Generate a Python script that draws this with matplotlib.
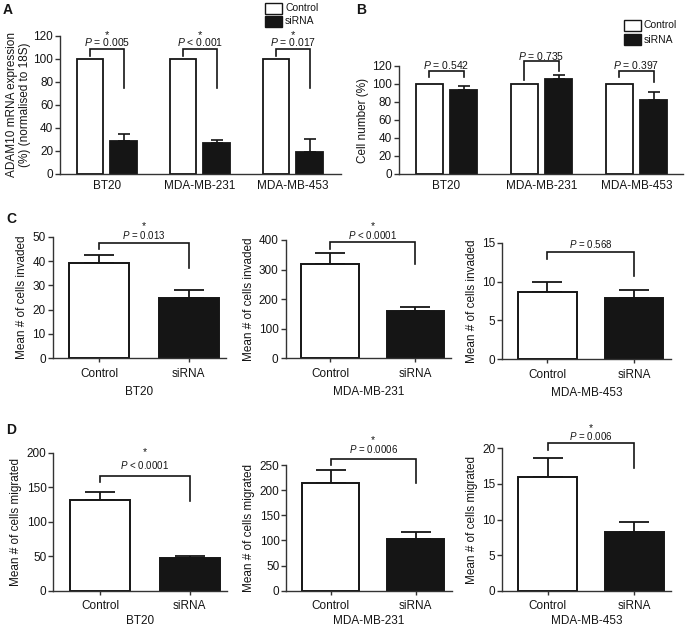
import matplotlib
matplotlib.use("Agg")
import matplotlib.pyplot as plt
from matplotlib.patches import Rectangle
import numpy as np

plt.rcParams['font.family'] = ['Liberation Sans', 'DejaVu Sans']
plt.rcParams['mathtext.fontset'] = 'custom'
plt.rcParams['mathtext.it'] = 'Liberation Sans:italic'
plt.rcParams['mathtext.rm'] = 'Liberation Sans'

W, H = 685, 627
INK = '#151515'
AX = '#333333'

# ---------------- data ----------------
cell_lines = ['BT20', 'MDA-MB-231', 'MDA-MB-453']
treatments = ['Control', 'siRNA']

# Panel A: ADAM10 mRNA expression (% normalised to 18S)
a_control = [100, 100, 100]
a_control_err = [0, 0, 0]
a_sirna = [29.0, 27.2, 19.4]
a_sirna_err = [5.4, 2.3, 10.7]
a_pvals = ['$P$ = 0.005', '$P$ < 0.001', '$P$ = 0.017']
a_star = [True, True, True]

# Panel B: cell number (%)
b_control = [100, 100, 100]
b_control_err = [0, 0, 0]
b_sirna = [93.5, 105.3, 81.8]
b_sirna_err = [4.3, 4.7, 9.0]
b_pvals = ['$P$ = 0.542', '$P$ = 0.735', '$P$ = 0.397']

# Panel C: mean # of cells invaded
c_control = [39.1, 320, 8.7]
c_control_err = [3.4, 36, 1.3]
c_sirna = [24.6, 161, 7.84]
c_sirna_err = [3.6, 13.6, 1.06]
c_ymax = [50, 400, 15]
c_ystep = [10, 100, 5]
c_pvals = ['$P$ = 0.013', '$P$ < 0.0001', '$P$ = 0.568']
c_star = [True, True, False]

# Panel D: mean # of cells migrated
d_control = [131, 214, 16.0]
d_control_err = [12, 27, 2.6]
d_sirna = [48, 102.5, 8.3]
d_sirna_err = [2.3, 14, 1.4]
d_ymax = [200, 250, 20]
d_ystep = [50, 50, 5]
d_pvals = ['$P$ < 0.0001', '$P$ = 0.0006', '$P$ = 0.006']
d_star = [True, True, True]

# bracket geometry (data units): top, left-leg end, right-leg end, p-text centre, star centre
a_br = [(108.1, 102.3, 74.3, 114.2, 123.5)] * 3
b_br = [(114.8, 107.4, 107.4, 121.0, None),
        (125.6, 104.4, 114.4, 130.3, None),
        (114.8, 107.4, 102.6, 121.0, None)]
c_br = [(47.6, 44.9, 37.3, 50.3, 55.5),
        (392, 368, 319, 414, 456),
        (13.8, 12.85, 10.7, 14.8, None)]
d_br = [(166.7, 158, 130, 182, 205),
        (262, 250, 215, 280, 306),
        (20.7, 19.8, 17.2, 21.7, 23.2)]

fig = plt.figure(figsize=(W / 100, H / 100), dpi=100)


def add_ax(l, t, r, b):
    return fig.add_axes([l / W, 1 - b / H, (r - l) / W, (b - t) / H])


def style(ax):
    for s in ['top', 'right']:
        ax.spines[s].set_visible(False)
    for s in ['left', 'bottom']:
        ax.spines[s].set_color(AX)
        ax.spines[s].set_linewidth(1.0)
    ax.tick_params(axis='both', colors=AX, labelcolor=INK, width=1.0,
                   length=3.5, labelsize=8.5, pad=1.5)
    ax.set_facecolor('none')


def label_at(ax, x, yc, s, fs, kind='text'):
    # place text so that its visual centre sits at yc
    off = -0.36 * fs if kind == 'text' else -0.58 * fs
    ax.annotate(s, xy=(x, yc), xytext=(0, off), textcoords='offset points',
                ha='center', va='baseline', fontsize=fs, color=INK,
                annotation_clip=False)


def bracket(ax, x1, x2, geom, ptxt, star, fs_p, fs_s):
    ytop, yl, yr, yp, ys = geom
    ax.plot([x1, x1, x2, x2], [yl, ytop, ytop, yr], color=INK, lw=1.2,
            clip_on=False, solid_joinstyle='miter')
    xm = (x1 + x2) / 2
    label_at(ax, xm, yp, ptxt, fs_p)
    if star and ys is not None:
        label_at(ax, xm, ys, '*', fs_s, kind='star')


# ---------------- Panels A and B ----------------
def grouped(ax, ctrl, ctrl_err, sir, sir_err, width, off, capsize, xlim, ymax):
    x = np.arange(len(cell_lines))
    ax.bar(x - off, ctrl, width, color='white', edgecolor=INK, linewidth=1.3, zorder=2)
    ax.bar(x + off, sir, width, color=INK, edgecolor=INK, linewidth=1.3, zorder=2)
    ax.errorbar(x + off, sir, yerr=[np.zeros(len(sir)), sir_err], fmt='none',
                ecolor=INK, elinewidth=1.2, capsize=capsize, capthick=1.2, zorder=1)
    ax.set_xlim(*xlim)
    ax.set_ylim(0, ymax)
    ax.set_yticks(np.arange(0, ymax + 1, 20))
    ax.set_xticks(x)
    ax.set_xticklabels(cell_lines)
    style(ax)
    ax.tick_params(axis='x', length=0, pad=4)
    return x


axA = add_ax(60.2, 35.7, 341.4, 174)
xA = grouped(axA, a_control, a_control_err, a_sirna, a_sirna_err, 0.285, 0.18, 4.3,
             (-0.5, 2.52), 120)
axA.set_ylabel('ADAM10 mRNA expression\n(%) (normalised to 18S)', fontsize=8.5,
               color=INK, labelpad=2, linespacing=1.05)
for i in range(3):
    bracket(axA, xA[i] - 0.18, xA[i] + 0.18, a_br[i], a_pvals[i], a_star[i], 7.5, 8)

axB = add_ax(399, 66, 683, 174)
xB = grouped(axB, b_control, b_control_err, b_sirna, b_sirna_err, 0.28, 0.18, 4.3,
             (-0.5, 2.49), 120)
axB.set_ylabel('Cell number (%)', fontsize=8.5, color=INK, labelpad=2)
for i in range(3):
    bracket(axB, xB[i] - 0.18, xB[i] + 0.18, b_br[i], b_pvals[i], False, 7.5, 8)


# legends (drawn in figure pixels)
def legend_at(x0, y_ctrl, y_sir, bw, bh):
    for yc, fc, lab in [(y_ctrl, 'white', 'Control'), (y_sir, INK, 'siRNA')]:
        fig.add_artist(Rectangle((x0 / W, 1 - (yc + bh / 2) / H), bw / W, bh / H,
                                 transform=fig.transFigure, facecolor=fc,
                                 edgecolor=INK, linewidth=1.0))
        fig.text((x0 + bw + 3) / W, 1 - yc / H, lab, fontsize=7.5, color=INK,
                 ha='left', va='center')


legend_at(265, 8.3, 21.5, 17, 10.5)
legend_at(624, 25.3, 39.6, 17, 10.5)

# ---------------- Panels C and D ----------------
def pair(ax, i, ctrl, ctrl_err, sir, sir_err, ymax, ystep, pvals, stars, br, ylab, xpad):
    x = np.arange(2)
    vals = [ctrl[i], sir[i]]
    errs = [ctrl_err[i], sir_err[i]]
    ax.bar(x, vals, 0.67, color=['white', INK], edgecolor=INK, linewidth=1.4, zorder=2)
    ax.errorbar(x, vals, yerr=[[0, 0], errs], fmt='none', ecolor=INK,
                elinewidth=1.3, capsize=10.5, capthick=1.3, zorder=1)
    ax.set_xlim(-0.52, 1.42)
    ax.set_ylim(0, ymax[i])
    ax.set_yticks(np.arange(0, ymax[i] + ystep[i] / 2, ystep[i]))
    ax.set_xticks(x)
    ax.set_xticklabels(treatments)
    style(ax)
    ax.tick_params(axis='x', length=3, pad=4)
    ax.set_xlabel(cell_lines[i], fontsize=8.5, color=INK, labelpad=xpad)
    ax.set_ylabel(ylab, fontsize=8.5, color=INK, labelpad=3)
    bracket(ax, 0, 1, br[i], pvals[i], stars[i], 7, 7.5)


c_boxes = [(52.6, 236.7, 226.4, 358.3),
           (285.5, 240.0, 451.4, 358.3),
           (502.4, 242.7, 670.6, 359.3)]
d_boxes = [(53.4, 452.7, 227.4, 590.7),
           (286.4, 465.0, 451.5, 590.7),
           (502.3, 448.3, 671.0, 590.7)]

for i in range(3):
    ax = add_ax(*c_boxes[i])
    pair(ax, i, c_control, c_control_err, c_sirna, c_sirna_err, c_ymax, c_ystep,
         c_pvals, c_star, c_br, 'Mean # of cells invaded', 4.5)
for i in range(3):
    ax = add_ax(*d_boxes[i])
    pair(ax, i, d_control, d_control_err, d_sirna, d_sirna_err, d_ymax, d_ystep,
         d_pvals, d_star, d_br, 'Mean # of cells migrated', 1.5)

# panel letters
for lab, x, yb in [('A', 2.5, 14), ('B', 356.5, 13.5), ('C', 6, 223), ('D', 6, 433.5)]:
    fig.text(x / W, 1 - yb / H, lab, fontsize=10, fontweight='bold', color=INK,
             ha='left', va='baseline')

fig.savefig('out.png', dpi=100, facecolor='white')
